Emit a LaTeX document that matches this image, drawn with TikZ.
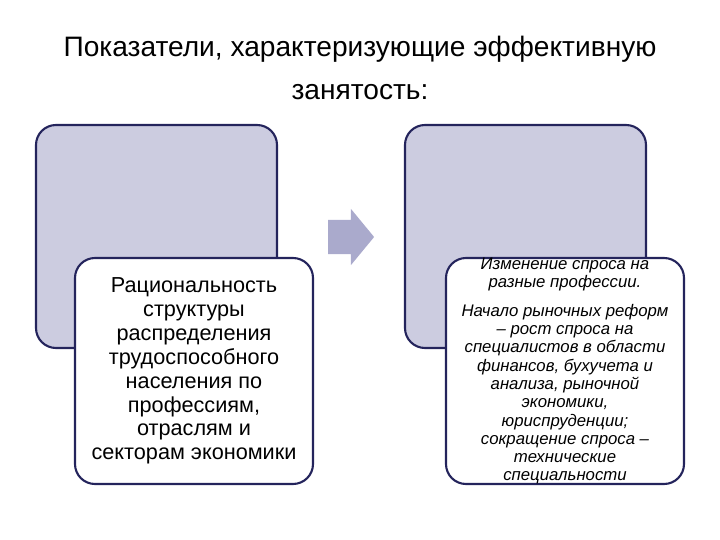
\documentclass[tikz,border=0pt]{standalone}
\usepackage{fontspec}
\setmainfont{Liberation Sans}
\usetikzlibrary{shapes.arrows}
\definecolor{fondo}{RGB}{204,204,224}
\definecolor{borde}{RGB}{36,36,92}
\definecolor{flechagris}{RGB}{170,170,204}
\begin{document}
\begin{tikzpicture}[
        x=0.03cm, y=-0.03cm,
        % Caja de fondo (lavanda)
        atras/.style={draw=borde, line width=1.8pt, fill=fondo, rounded corners=0.6cm,
            minimum width=7.23cm, minimum height=6.69cm, inner sep=0pt},
        % Caja delantera (blanca, con texto)
        delante/.style={draw=borde, line width=1.8pt, fill=white, rounded corners=0.6cm,
            minimum width=7.14cm, minimum height=6.78cm, inner sep=0pt},
        % Textos de las cajas
        textoizq/.style={align=center, font=\fontsize{18.5}{20.4}\selectfont},
        textoder/.style={align=center, font=\fontsize{14.3}{15.6}\selectfont\itshape}
    ]
        \useasboundingbox (0,0) rectangle (720,540);

        % Título
        \node[align=center, font=\fontsize{24}{36.6}\selectfont] (titulo) at (360,68)
            {Показатели, характеризующие эффективную\\занятость:};

        % Cajas de fondo
        \node[atras] (b1) at (156.5,236.5) {};
        \node[atras] (b2) at (525.5,236.5) {};

        % Flecha entre columnas
        \node[single arrow, fill=flechagris, inner xsep=0pt, inner ysep=0.51cm,
            single arrow head extend=0.33cm, single arrow tip angle=101,
            minimum height=1.38cm] (flecha) at (344,237) {};

        % Cajas delanteras con texto
        \node[delante] (c1) at (194,371) {};
        \node[delante] (c2) at (565,371) {};
        \node[textoizq] (t1) at (c1.center) {Рациональность\\структуры\\распределения\\трудоспособного\\населения по\\профессиям,\\отраслям и\\секторам экономики};
        \node[textoder] (t2) at (c2.center) {Изменение спроса на\\разные профессии.\\[9pt]
            Начало рыночных реформ\\– рост спроса на\\специалистов в области\\финансов, бухучета и\\анализа, рыночной\\экономики,\\юриспруденции;\\сокращение спроса –\\технические\\специальности};

    \end{tikzpicture}
\end{document}
